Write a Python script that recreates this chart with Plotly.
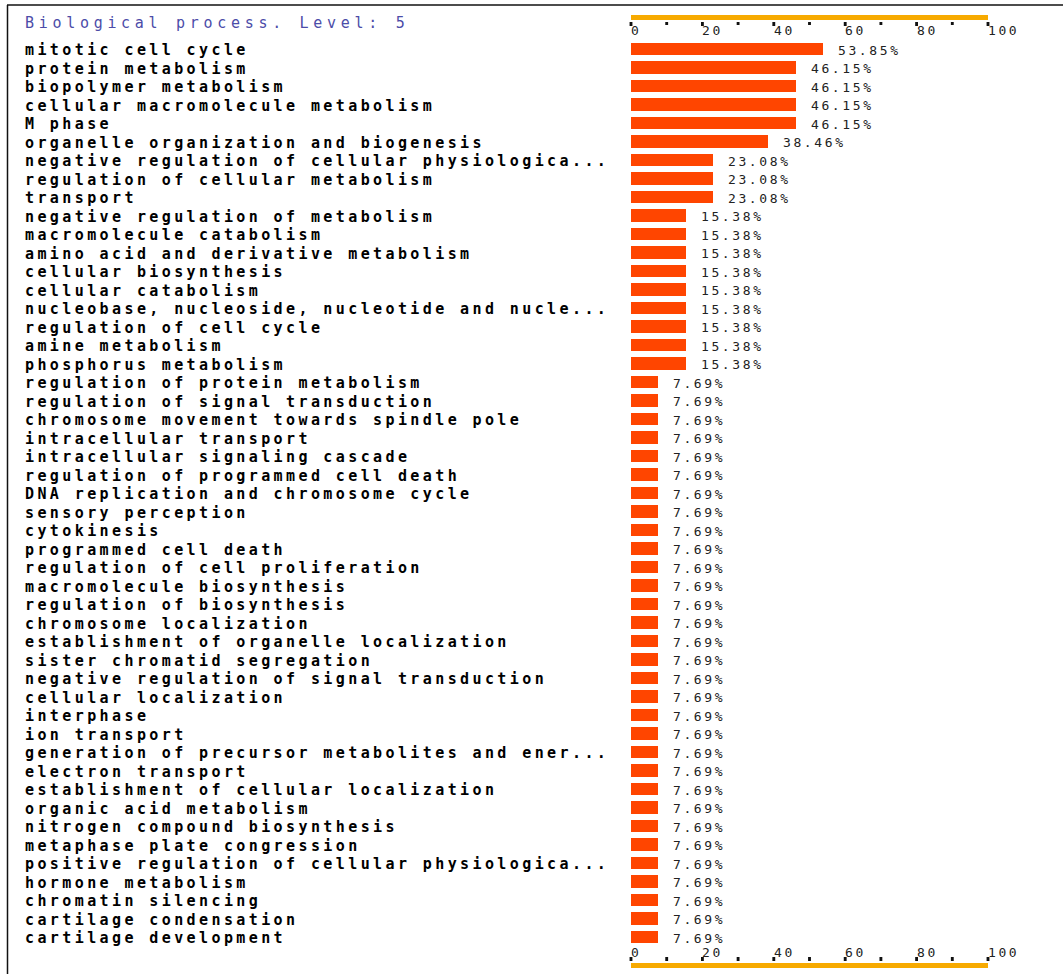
import plotly.graph_objects as go

title_text = "Biological process. Level: 5"

categories = [
    "mitotic cell cycle",
    "protein metabolism",
    "biopolymer metabolism",
    "cellular macromolecule metabolism",
    "M phase",
    "organelle organization and biogenesis",
    "negative regulation of cellular physiologica...",
    "regulation of cellular metabolism",
    "transport",
    "negative regulation of metabolism",
    "macromolecule catabolism",
    "amino acid and derivative metabolism",
    "cellular biosynthesis",
    "cellular catabolism",
    "nucleobase, nucleoside, nucleotide and nucle...",
    "regulation of cell cycle",
    "amine metabolism",
    "phosphorus metabolism",
    "regulation of protein metabolism",
    "regulation of signal transduction",
    "chromosome movement towards spindle pole",
    "intracellular transport",
    "intracellular signaling cascade",
    "regulation of programmed cell death",
    "DNA replication and chromosome cycle",
    "sensory perception",
    "cytokinesis",
    "programmed cell death",
    "regulation of cell proliferation",
    "macromolecule biosynthesis",
    "regulation of biosynthesis",
    "chromosome localization",
    "establishment of organelle localization",
    "sister chromatid segregation",
    "negative regulation of signal transduction",
    "cellular localization",
    "interphase",
    "ion transport",
    "generation of precursor metabolites and ener...",
    "electron transport",
    "establishment of cellular localization",
    "organic acid metabolism",
    "nitrogen compound biosynthesis",
    "metaphase plate congression",
    "positive regulation of cellular physiologica...",
    "hormone metabolism",
    "chromatin silencing",
    "cartilage condensation",
    "cartilage development",
]

percent = [
    53.85, 46.15, 46.15, 46.15, 46.15, 38.46, 23.08, 23.08, 23.08,
    15.38, 15.38, 15.38, 15.38, 15.38, 15.38, 15.38, 15.38, 15.38,
    7.69, 7.69, 7.69, 7.69, 7.69, 7.69, 7.69, 7.69, 7.69, 7.69,
    7.69, 7.69, 7.69, 7.69, 7.69, 7.69, 7.69, 7.69, 7.69, 7.69,
    7.69, 7.69, 7.69, 7.69, 7.69, 7.69, 7.69, 7.69, 7.69, 7.69,
    7.69,
]

major_ticks = [0, 20, 40, 60, 80, 100]
minor_ticks = [10, 30, 50, 70, 90]
tick_labels = ["0", "20", "40", "60", "80", "100"]

# ---- layout geometry (pixels) ----
W, H = 1063, 974
X0_PX, X100_PX = 631, 988
ROW0_PX, ROW_STEP = 49, 18.5
scale = (X100_PX - X0_PX) / 100.0
x_range = [-X0_PX / scale, (W - X0_PX) / scale]
y_range = [(H - ROW0_PX) / ROW_STEP, -ROW0_PX / ROW_STEP]


def py(p):
    return 1 - p / H


def px(p):
    return p / W


BAR_COLOR = "#FF4500"
AXIS_COLOR = "#F7AA00"
MONO = "DejaVu Sans Mono"


def spaced(t, ls):
    return f'<span style="letter-spacing:{ls}px">{t}</span>'


fig = go.Figure()
fig.add_trace(go.Bar(
    x=percent, y=categories, orientation="h", width=0.67,
    marker=dict(color=BAR_COLOR, line=dict(width=0)),
    hoverinfo="x+y",
))

annotations = []
# title
annotations.append(dict(
    x=px(25), y=py(23.5), xref="paper", yref="paper", xanchor="left", yanchor="middle",
    xshift=-2, text=spaced(title_text, 4.7), showarrow=False,
    font=dict(family=MONO, size=15, color="#4C4CA8"),
))
# category labels + value labels
for cat, val in zip(categories, percent):
    annotations.append(dict(
        x=px(25), y=cat, xref="paper", yref="y", xanchor="left", yanchor="middle",
        xshift=-2, yshift=-1, text=spaced(cat, 3.4), showarrow=False,
        font=dict(family=MONO, size=15, color="#000000", weight="bold"),
    ))
    annotations.append(dict(
        x=val, y=cat, xref="x", yref="y", xanchor="left", yanchor="middle",
        xshift=13, yshift=-1, text=spaced(f"{val:.2f}%", 2.6), showarrow=False,
        font=dict(family=MONO, size=13, color="#222222"),
    ))
# tick labels top and bottom
for v, lab in zip(major_ticks, tick_labels):
    for ypx in (30.5, 952):
        annotations.append(dict(
            x=v, y=py(ypx), xref="x", yref="paper", xanchor="left", yanchor="middle",
            xshift=-2, text=spaced(lab, 2.6), showarrow=False,
            font=dict(family=MONO, size=13, color="#222222"),
        ))

shapes = []
# orange axis bars
for y0, y1 in ((15, 20), (963, 968)):
    shapes.append(dict(type="rect", xref="x", yref="paper",
                       x0=major_ticks[0], x1=major_ticks[-1], y0=py(y1), y1=py(y0),
                       fillcolor=AXIS_COLOR, line=dict(width=0), layer="above"))
# tick marks
for v in major_ticks + minor_ticks:
    big = v in major_ticks
    for y0, y1 in ((22, 26 if big else 25), (957, 961)):
        shapes.append(dict(type="rect", xref="x", yref="paper",
                           x0=v - 0.4, x1=v + 0.4, y0=py(y1), y1=py(y0),
                           fillcolor="#111111", line=dict(width=0), layer="above"))
# frame lines
shapes.append(dict(type="line", xref="paper", yref="paper",
                   x0=px(7.5), x1=px(7.5), y0=py(5), y1=0,
                   line=dict(color="#111111", width=1.5)))
shapes.append(dict(type="line", xref="paper", yref="paper",
                   x0=px(7), x1=1, y0=py(5), y1=py(5),
                   line=dict(color="#111111", width=1.5)))

fig.update_layout(
    width=W, height=H, autosize=False,
    margin=dict(l=0, r=0, t=0, b=0, pad=0),
    paper_bgcolor="white", plot_bgcolor="white",
    showlegend=False,
    xaxis=dict(range=x_range, visible=False, fixedrange=True),
    yaxis=dict(type="category", categoryorder="array", categoryarray=categories,
               range=y_range, visible=False, fixedrange=True),
    annotations=annotations,
    shapes=shapes,
    bargap=0,
)

fig.write_html("out.html", config={"displayModeBar": False},
               post_script="document.body.style.margin='0';")
